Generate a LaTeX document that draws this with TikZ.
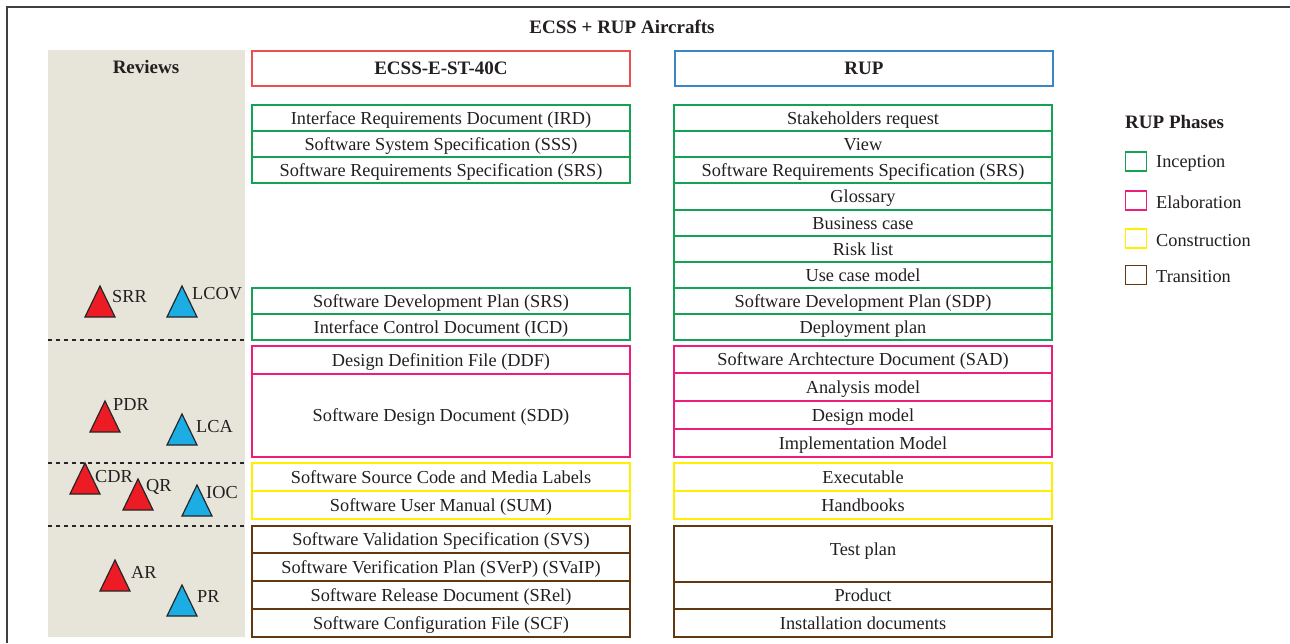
\documentclass[tikz,border=0pt]{standalone}
\usepackage{fontspec}
\setmainfont{Liberation Serif}
\definecolor{cgreen}{RGB}{20,162,85}
\definecolor{cpink}{RGB}{236,30,121}
\definecolor{cyellow}{RGB}{255,240,0}
\definecolor{cbrown}{RGB}{96,57,19}
\definecolor{hred}{RGB}{237,78,78}
\definecolor{hblue}{RGB}{58,135,200}
\definecolor{beige}{RGB}{231,229,218}
\definecolor{ink}{RGB}{35,31,32}
\definecolor{tred}{RGB}{237,28,36}
\definecolor{tblue}{RGB}{27,173,227}
\newcommand{\fsn}{\fontsize{18.3}{21}\selectfont}
\newcommand{\fsb}{\fontsize{19}{22}\selectfont\bfseries}
\tikzset{
  box/.style={draw=#1, line width=1.5pt, minimum width=378pt, inner sep=0pt, font=\fsn, text=ink, text height=14pt, text depth=2pt},
  head/.style={draw=#1, line width=1.5pt, minimum width=378pt, minimum height=35pt, inner sep=0pt, font=\fsb, text=ink, text height=14pt, text depth=2pt},
  lbl/.style={anchor=west, inner sep=0pt, font=\fsn, text=ink},
  sq/.style={draw=#1, line width=1.5pt, minimum width=21pt, minimum height=19pt, inner sep=0pt},
  rtri/.style={fill=tred, draw=black!85, line width=1.2pt, line join=miter},
  btri/.style={fill=tblue, draw=black!85, line width=1.2pt, line join=miter},
  sep/.style={dashed, dash pattern=on 4pt off 4pt, line width=1.2pt, draw=black!85}
}
\newcommand{\tri}[3]{\draw[#1] (#2-15,#3) -- (#2,#3-31) -- (#2+15,#3) -- cycle;}
\begin{document}
\begin{tikzpicture}[x=1pt,y=-1pt]
\useasboundingbox (0,0) rectangle (1290,643);
\fill[white] (0,0) rectangle (1290,643);
% frame
\draw[line width=2pt, draw=black!75] (7,643) -- (7,7) -- (1290,7);
\node[font=\fsb, text=ink] (title) at (622,27) {ECSS + RUP Aircrafts};
% reviews column
\fill[beige] (48,50) rectangle (245,637);
\node[font=\fsb, text=ink] (reviews) at (146,66.5) {Reviews};
\draw[sep] (48,340) -- (245,340);
\draw[sep] (48,463) -- (245,463);
\draw[sep] (48,526) -- (245,526);
% headers
\node[head=hred] (ecss) at (441,68.5) {ECSS-E-ST-40C};
\node[head=hblue] (rup) at (864,68.5) {RUP};
% ECSS column
\node[box=cgreen, minimum height=26pt] (e1) at (441,118) {Interface Requirements Document (IRD)};
\node[box=cgreen, minimum height=26pt] (e2) at (441,144) {Software System Specification (SSS)};
\node[box=cgreen, minimum height=26pt] (e3) at (441,170) {Software Requirements Specification (SRS)};
\node[box=cgreen, minimum height=26pt] (e4) at (441,301) {Software Development Plan (SRS)};
\node[box=cgreen, minimum height=26pt] (e5) at (441,327) {Interface Control Document (ICD)};
\node[box=cpink, minimum height=28pt] (e6) at (441,360) {Design Definition File (DDF)};
\node[box=cpink, minimum height=83pt] (e7) at (441,415.5) {Software Design Document (SDD)};
\node[box=cyellow, minimum height=28pt] (e8) at (441,477) {Software Source Code and Media Labels};
\node[box=cyellow, minimum height=28pt] (e9) at (441,505) {Software User Manual (SUM)};
\node[box=cbrown, minimum height=27pt] (e10) at (441,539.5) {Software Validation Specification (SVS)};
\node[box=cbrown, minimum height=28pt] (e11) at (441,567) {Software Verification Plan (SVerP) (SVaIP)};
\node[box=cbrown, minimum height=28pt] (e12) at (441,595) {Software Release Document (SRel)};
\node[box=cbrown, minimum height=28pt] (e13) at (441,623) {Software Configuration File (SCF)};
% RUP column
\node[box=cgreen, minimum height=26pt] (r1) at (863,118) {Stakeholders request};
\node[box=cgreen, minimum height=26pt] (r2) at (863,144) {View};
\node[box=cgreen, minimum height=26pt] (r3) at (863,170) {Software Requirements Specification (SRS)};
\node[box=cgreen, minimum height=27pt] (r4) at (863,196.5) {Glossary};
\node[box=cgreen, minimum height=26pt] (r5) at (863,223) {Business case};
\node[box=cgreen, minimum height=26pt] (r6) at (863,249) {Risk list};
\node[box=cgreen, minimum height=26pt] (r7) at (863,275) {Use case model};
\node[box=cgreen, minimum height=26pt] (r8) at (863,301) {Software Development Plan (SDP)};
\node[box=cgreen, minimum height=26pt] (r9) at (863,327) {Deployment plan};
\node[box=cpink, minimum height=27pt] (r10) at (863,359.5) {Software Archtecture Document (SAD)};
\node[box=cpink, minimum height=28pt] (r11) at (863,387) {Analysis model};
\node[box=cpink, minimum height=28pt] (r12) at (863,415) {Design model};
\node[box=cpink, minimum height=28pt] (r13) at (863,443) {Implementation Model};
\node[box=cyellow, minimum height=28pt] (r14) at (863,477) {Executable};
\node[box=cyellow, minimum height=28pt] (r15) at (863,505) {Handbooks};
\node[box=cbrown, minimum height=56pt] (r16) at (863,554) {};
\node[font=\fsn, text=ink, inner sep=0pt, text height=14pt, text depth=2pt] (r16t) at (863,549) {Test plan};
\node[box=cbrown, minimum height=27pt] (r17) at (863,595.5) {Product};
\node[box=cbrown, minimum height=28pt] (r18) at (863,623) {Installation documents};
% triangles
\tri{rtri}{100}{317}
\node[lbl] (srr) at (112,297) {SRR};
\tri{btri}{182}{317}
\node[lbl] (lcov) at (192,294) {LCOV};
\tri{rtri}{105}{432}
\node[lbl] (pdr) at (113,405) {PDR};
\tri{btri}{182}{445}
\node[lbl] (lca) at (196,427) {LCA};
\tri{rtri}{85}{494}
\node[lbl] (cdr) at (95,477) {CDR};
\tri{rtri}{138}{510}
\node[lbl] (qr) at (146,487) {QR};
\tri{btri}{197}{516}
\node[lbl] (ioc) at (206,493) {IOC};
\tri{rtri}{115}{591}
\node[lbl] (ar) at (131,572) {AR};
\tri{btri}{182}{616}
\node[lbl] (pr) at (197,596) {PR};
% legend
\node[anchor=west, inner sep=0pt, font=\fsb, text=ink] (lt) at (1125,122) {RUP Phases};
\node[sq=cgreen] (s1) at (1136,161.5) {};
\node[lbl] (l1) at (1156,163) {Inception};
\node[sq=cpink] (s2) at (1136,200.5) {};
\node[lbl] (l2) at (1156,202) {Elaboration};
\node[sq=cyellow] (s3) at (1136,238.5) {};
\node[lbl] (l3) at (1156,241) {Construction};
\node[sq=cbrown] (s4) at (1136,275) {};
\node[lbl] (l4) at (1156,277) {Transition};
\end{tikzpicture}
\end{document}
